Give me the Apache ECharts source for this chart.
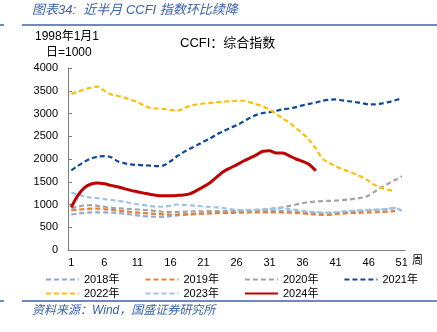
<!DOCTYPE html>
<html>
<head>
<meta charset="utf-8">
<script src="https://cdn.jsdelivr.net/npm/echarts@6/dist/echarts.min.js"></script>
<style>
  html, body { margin: 0; padding: 0; background: #fff; }
  #chart { width: 437px; height: 332px; }
</style>
</head>
<body>
<div id="chart"></div>
<script>
// Week numbers on the x axis
const weeks = ['1','2','3','4','5','6','7','8','9','10','11','12','13','14','15','16','17','18','19','20',
  '21','22','23','24','25','26','27','28','29','30','31','32','33','34','35','36','37','38','39','40',
  '41','42','43','44','45','46','47','48','49','50','51'];

// CCFI composite index by week (1998-01-01 = 1000)
const y2018 = [780,800,815,825,825,825,820,815,800,780,760,745,735,730,730,745,760,770,780,790,
  800,810,820,830,835,840,845,850,855,855,860,860,855,850,840,830,820,815,810,815,
  820,830,840,850,860,870,880,890,900,920,860];
const y2019 = [870,885,900,910,910,900,885,870,850,835,820,810,800,790,785,780,780,785,790,795,
  800,805,810,815,815,820,820,825,825,825,825,825,825,820,815,805,790,780,770,770,
  790,800,810,815,820,825,830,835,845,855];
const y2020 = [920,950,980,985,970,950,930,920,910,900,890,880,870,850,840,835,835,840,845,850,
  850,855,855,855,860,860,865,870,880,890,900,920,940,970,1000,1030,1050,1065,1075,1080,
  1085,1095,1110,1130,1150,1200,1290,1380,1460,1540,1620];
const y2021 = [1750,1850,1940,2010,2050,2065,2040,1950,1910,1880,1870,1860,1855,1845,1860,1950,2060,2150,2230,2300,
  2380,2450,2540,2610,2680,2740,2820,2900,2970,3010,3030,3060,3090,3110,3140,3180,3210,3240,3280,3300,
  3310,3290,3270,3250,3230,3200,3200,3220,3250,3290,3330];
const y2022 = [3430,3480,3530,3570,3590,3500,3420,3390,3350,3300,3250,3180,3120,3110,3100,3080,3060,3110,3170,3200,
  3220,3230,3250,3260,3270,3280,3280,3250,3200,3160,3080,2990,2890,2800,2680,2560,2420,2230,2010,1920,
  1840,1780,1720,1670,1600,1520,1420,1360,1320,1290];
const y2023 = [1260,1220,1180,1150,1140,1120,1100,1080,1060,1030,1005,985,965,955,950,975,1000,990,980,970,
  960,945,935,920,900,880,875,880,885,890,895,905,920,900,880,860,845,835,825,820,
  830,845,860,870,875,880,885,890,905,930,850];
const y2024 = [940,1200,1370,1450,1475,1455,1420,1390,1350,1310,1280,1250,1220,1200,1195,1195,1200,1210,1240,1310,
  1390,1480,1600,1720,1800,1870,1950,2020,2090,2170,2180,2130,2130,2070,2000,1950,1880,1740];

const yearNames = ['2018年','2019年','2020年','2021年','2022年','2023年','2024年'];
const yearData = [y2018, y2019, y2020, y2021, y2022, y2023, y2024];
const yearColors = ['#8FAADC','#ED7D31','#A5A5A5','#0B4A9E','#FFC000','#9DC3E6','#C00000'];

const font = '"Liberation Sans", Arial, "Noto Sans CJK SC", sans-serif';
const blue = '#3A62AE';

const series = yearNames.map((name, i) => {
  const solid = name === '2024年';
  return {
    name: name,
    type: 'line',
    data: yearData[i],
    smooth: 0.3,
    symbol: 'none',
    z: solid ? 10 : 2 + i,
    lineStyle: {
      color: yearColors[i],
      width: solid ? 3 : 2.2,
      type: solid ? 'solid' : [5, 3]
    },
    itemStyle: { color: yearColors[i] }
  };
});

// Legend keys show only the line stroke, no point marker
const legendBase = {
  left: 40,
  itemWidth: 33,
  itemHeight: 10,
  itemGap: 25,
  itemStyle: { opacity: 0 },
  textStyle: { fontFamily: font, fontSize: 11, color: '#000' }
};

const chart = echarts.init(document.getElementById('chart'), null, { renderer: 'canvas' });
chart.setOption({
  animation: false,
  backgroundColor: '#fff',
  grid: { left: 68, right: 32, top: 68, bottom: 82, containLabel: false },
  xAxis: {
    type: 'category',
    data: weeks,
    boundaryGap: true,
    axisLine: { lineStyle: { color: '#7F7F7F', width: 1 } },
    axisTick: { show: false },
    axisLabel: { interval: 4, color: '#000', fontFamily: font, fontSize: 11, margin: 7 }
  },
  yAxis: {
    type: 'value',
    min: 0,
    max: 4000,
    interval: 500,
    splitLine: { show: false },
    axisLine: { show: true, lineStyle: { color: '#7F7F7F', width: 1 } },
    axisTick: { show: true, inside: true, length: 4, lineStyle: { color: '#7F7F7F' } },
    axisLabel: { color: '#000', fontFamily: font, fontSize: 11, margin: 10,
      formatter: function (v) { return String(v); } }
  },
  legend: [
    Object.assign({}, legendBase, { top: 269, data: yearNames.slice(0, 4) }),
    Object.assign({}, legendBase, { top: 283, data: yearNames.slice(4) })
  ],
  series: series,
  graphic: [
    { type: 'line', shape: { x1: 22, y1: 25, x2: 437, y2: 25 }, style: { stroke: blue, lineWidth: 1.5 } },
    { type: 'line', shape: { x1: 0, y1: 25, x2: 4, y2: 25 }, style: { stroke: blue, lineWidth: 1.5 } },
    { type: 'line', shape: { x1: 22, y1: 301, x2: 437, y2: 301 }, style: { stroke: blue, lineWidth: 1.5 } },
    { type: 'line', shape: { x1: 0, y1: 301, x2: 4, y2: 301 }, style: { stroke: blue, lineWidth: 1.5 } },
    { type: 'text', left: 32, top: 4, style: { text: '图表34:  近半月 CCFI 指数环比续降', fill: blue,
        font: 'italic 13px ' + font } },
    { type: 'text', left: 32, top: 305, style: { text: '资料来源：Wind，国盛证券研究所', fill: blue,
        font: 'italic 12px ' + font } },
    { type: 'text', left: 180, top: 37, style: { text: 'CCFI：综合指数', fill: '#000',
        font: '13px ' + font } },
    { type: 'text', left: 35, top: 31, style: { text: '1998年1月1', fill: '#000', font: '12px ' + font } },
    { type: 'text', left: 46, top: 47, style: { text: '日=1000', fill: '#000', font: '12px ' + font } },
    { type: 'text', left: 412, top: 255, style: { text: '周', fill: '#000', font: '11px ' + font } }
  ]
});
</script>
</body>
</html>
